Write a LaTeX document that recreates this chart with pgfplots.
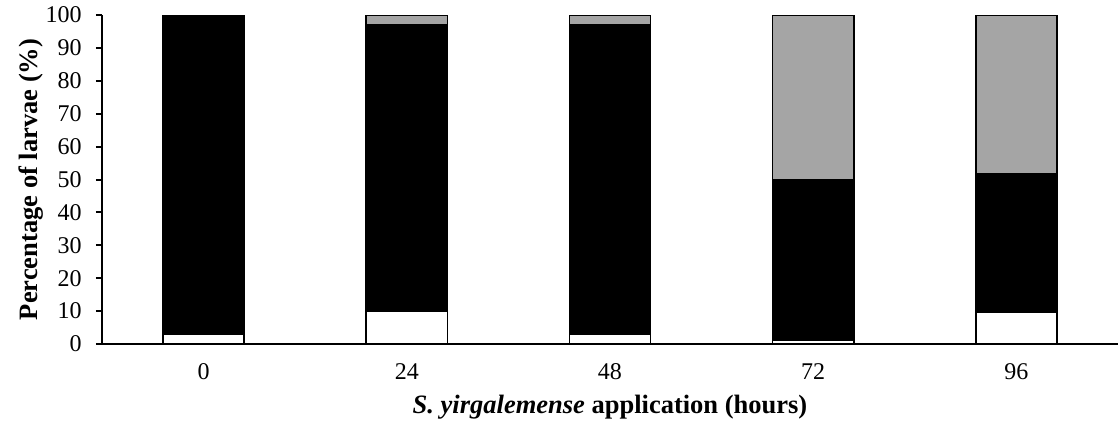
\documentclass[border=0pt]{standalone}
\usepackage{fontspec}
\setmainfont{Liberation Serif}
\usepackage{pgfplots}
\pgfplotsset{compat=1.18}
\definecolor{bargray}{HTML}{A5A5A5}
\begin{document}
\fontsize{12}{14}\selectfont
\begin{tikzpicture}
\useasboundingbox (-51pt,-42.5pt) rectangle (508.5pt,172pt);
\begin{axis}[
  scale only axis, width=508pt, height=164.5pt,
  ybar stacked, bar width=0.4,
  xmin=-0.5, xmax=4.5, ymin=0, ymax=100,
  xtick=data, xticklabels={0,24,48,72,96},
  ytick={0,10,...,100},
  axis x line=bottom, axis y line=left,
  axis line style={-, line width=1pt},
  x tick style={draw=none},
  y tick style={line width=1pt, black},
  tick align=outside, major tick length=3pt,
  /pgf/number format/assume math mode=true,
  ticklabel style={font=\fontsize{12}{14}\selectfont},
  xticklabel style={yshift=-2.7pt},
  yticklabel style={xshift=-3pt},
  xlabel={\textbf{\textit{S. yirgalemense} application (hours)}},
  ylabel={\textbf{Percentage of larvae (\%)}},
  xlabel style={at={(axis description cs:0.5,-0.1915)}, anchor=center, font=\fontsize{13.25}{15}\selectfont},
  ylabel style={at={(axis description cs:-0.0699,0.5)}, anchor=center, font=\fontsize{13.25}{15}\selectfont},
  every axis plot/.append style={draw=black, line width=0.75pt},
]
\addplot[fill=white] coordinates {(0,3) (1,10) (2,3) (3,1.1) (4,9.7)};
\addplot[fill=black] coordinates {(0,97) (1,87) (2,94) (3,48.9) (4,42.2)};
\addplot[fill=bargray] coordinates {(0,0) (1,3) (2,3) (3,50) (4,48.1)};
\end{axis}
\end{tikzpicture}
\end{document}
